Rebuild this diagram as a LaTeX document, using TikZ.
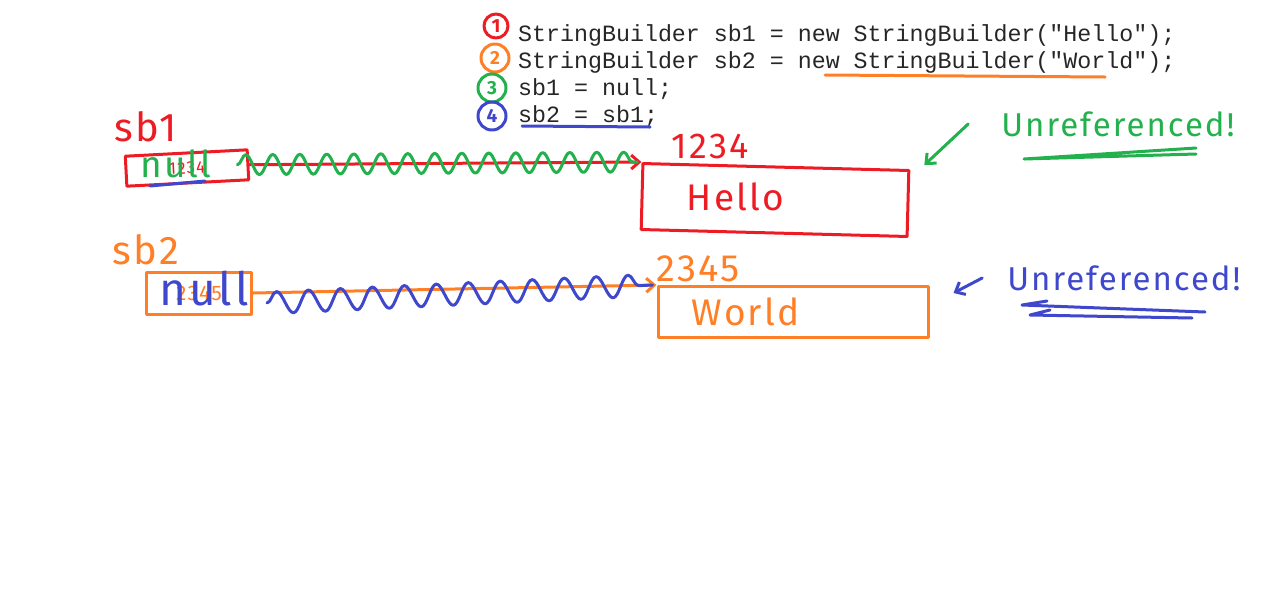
\documentclass[tikz,border=0pt]{standalone}
\usepackage{fontspec}
\setmonofont{Liberation Mono}
\newfontfamily\handfont{Fira Sans}
\usetikzlibrary{arrows.meta,decorations.pathmorphing,positioning}
\definecolor{penred}{RGB}{237, 28, 36}
\definecolor{penorange}{RGB}{255, 127, 39}
\definecolor{pengreen}{RGB}{34, 177, 76}
\definecolor{penblue}{RGB}{63, 72, 204}

\tikzset{
  pen/.style={line width=3pt, line cap=round, line join=round},
  code/.style={font=\ttfamily\fontsize{23.3}{27}\selectfont, anchor=base west, inner sep=0pt, text=black!85},
  hand/.style={font=\handfont\fontsize{#1}{#1}\selectfont\addfontfeature{LetterSpace=6}, inner sep=0pt},
  hand/.default=30,
  num/.style={pen, draw, circle, inner sep=0pt, minimum size=28pt, font=\handfont\bfseries\fontsize{19}{19}\selectfont},
  membox/.style={pen, draw, inner sep=0pt},
  wave/.style={pen, decorate, decoration={snake, amplitude=10pt, segment length=27pt}},
  barb/.style={-{Straight Barb[length=8pt, width=14pt]}},
}

\begin{document}
\begin{tikzpicture}[x=1pt, y=-1pt]
    \useasboundingbox (0,0) rectangle (1268,590);
    % code lines
    \node[code] (line1) at (518,41) {StringBuilder sb1 = new StringBuilder("Hello");};
    \node[code] (line2) at (518,68) {StringBuilder sb2 = new StringBuilder("World");};
    \node[code] (line3) at (518,95) {sb1 = null;};
    \node[code] (line4) at (518,122) {sb2 = sb1;};
    \node[num, penred, minimum size=24pt] (n1) at (496,26) {1};
    \node[num, penorange] (n2) at (495,58) {2};
    \node[num, pengreen] (n3) at (492,88) {3};
    \node[num, penblue] (n4) at (492,116) {4};
    \draw[pen, penorange] (825,75) -- (1105,77);
    \draw[pen, penblue] (522,126) -- (650,127);

    % sb1 and its object
    \node[hand=40, penred] (sb1name) at (146,127) {sb1};
    \node[membox, penred, rotate=3, minimum width=122pt, minimum height=30pt, hand=17] (sb1) at (187,168) {1234};
    \node[hand=37, pengreen] (sb1val) at (176,164) {null};
    \draw[pen, penblue] (150,186) -- (205,181);
    \node[membox, penred, rotate=-1.5, minimum width=266pt, minimum height=66pt] (hello) at (775,200) {};
    \node[hand=37, penred, right=46pt of hello.west] (hellotxt) {Hello};
    \node[hand=36, penred, above right=3pt and 30pt of hello.north west] (addr1) {1234};
    \draw[pen, penred, barb] (sb1.east) -- (hello.north west);
    \draw[wave, pengreen] ([xshift=-12pt]sb1.east) -- ([xshift=-4pt]hello.north west);

    % sb2 and its object
    \node[hand=40, penorange] (sb2name) at (146,250) {sb2};
    \node[membox, penorange, minimum width=105pt, minimum height=42pt, hand=21] (sb2) at (199,293) {2345};
    \node[hand=46, penblue] (sb2val) at (204,289) {null};
    \node[membox, penorange, minimum width=270pt, minimum height=51pt] (world) at (793,312) {};
    \node[hand=37, penorange, right=35pt of world.west] (worldtxt) {World};
    \node[hand=38, penorange, above right=3pt and 0pt of world.north west] (addr2) {2345};
    \draw[pen, penorange, barb] (sb2.east) -- (world.north west);
    \draw[wave, penblue, decoration={amplitude=11pt, segment length=32pt}] ([xshift=14pt, yshift=-10pt]sb2.east) -- ([xshift=-4pt]world.north west);

    % unreferenced notes
    \node[hand=33, pengreen] (unref1) at (1118,124) {Unreferenced!};
    \draw[pen, pengreen, barb] ([xshift=-33pt]unref1.west) -- ([xshift=14pt, yshift=4pt]hello.north east);
    \draw[pen, pengreen] (1196,148) -- (1024,159) -- (1196,154);
    \node[hand=33, penblue] (unref2) at (1124,278) {Unreferenced!};
    \draw[pen, penblue, barb] ([xshift=-25pt]unref2.west) -- ([xshift=24pt, yshift=-8pt]world.north east);
    \draw[pen, penblue] (1047,301) -- (1022,305) -- (1205,312);
    \draw[pen, penblue] (1050,310) -- (1030,315) -- (1192,318);
  \end{tikzpicture}
\end{document}
